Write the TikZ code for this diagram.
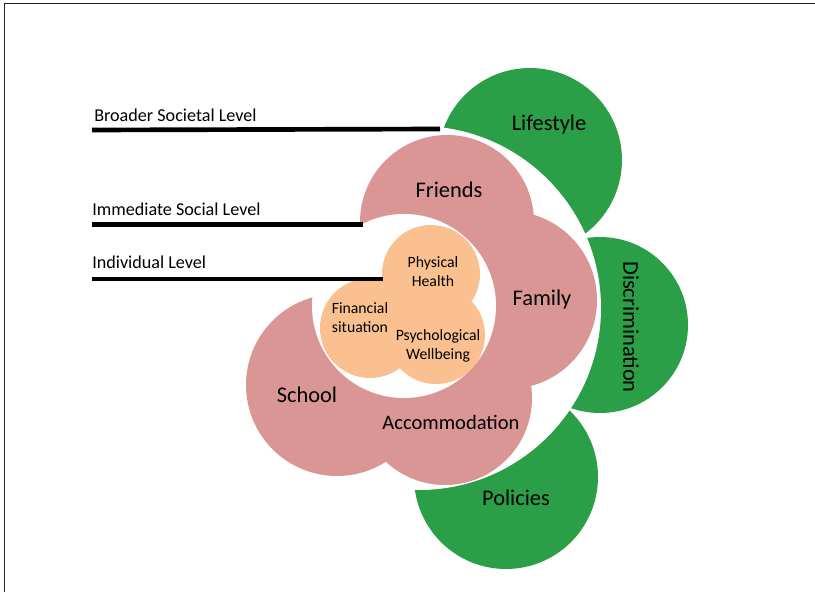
\documentclass[tikz,border=0pt]{standalone}
\usepackage{fontspec}
\setmainfont{Carlito}
\usetikzlibrary{positioning}
\definecolor{leafgreen}{RGB}{43,159,72}
\definecolor{petalpink}{RGB}{217,150,148}
\definecolor{coreorange}{RGB}{250,192,144}
\tikzset{
	bigtext/.style={font=\fontsize{16.8}{20}\selectfont,inner sep=0pt},
	coretext/.style={font=\fontsize{11.8}{14.2}\selectfont,align=center,inner sep=0pt},
	leveltext/.style={font=\fontsize{13.6}{16}\selectfont,inner sep=0pt,anchor=base west},
	levelline/.style={line width=3.5pt,black}
}

\begin{document}
\begin{tikzpicture}[x=0.75pt,y=-0.75pt]
		\useasboundingbox (0,0) rectangle (815,592);
		\draw[line width=1.1pt,black!85] (4.5,592) -- (4.5,3.5) -- (815,3.5);

		% broader societal level
		\fill[leafgreen] (530,160) circle [radius=92];
		\fill[leafgreen] (600,325) circle [radius=88];
		\fill[leafgreen] (506,477) circle [radius=92];
		\fill[white] (419,308) circle [radius=182];

		% immediate social level
		\fill[petalpink] (447,222) circle [radius=87];
		\fill[petalpink] (508,300) circle [radius=89];
		\fill[petalpink] (337,385) circle [radius=91];
		\fill[petalpink] (445,398) circle [radius=87];
		\fill[white] (404,306) circle [radius=92];

		% individual level
		\fill[coreorange] (431,274) circle [radius=49];
		\fill[coreorange] (370,328) circle [radius=50];
		\fill[coreorange] (436,335) circle [radius=49];

		\node[bigtext] (lifestyle) at (549,125) {Lifestyle};
		\node[bigtext,rotate=-90] (discrim) at (631,327) {Discrimination};
		\node[bigtext] (policies) at (516,498) {Policies};
		\node[bigtext] (friends) at (449,190) {Friends};
		\node[bigtext] (family) at (542,300) {Family};
		\node[bigtext] (school) at (307,395) {School};
		\node[bigtext,font=\fontsize{15.4}{18}\selectfont] (accom) at (451,422) {Accommodation};
		\node[coretext] (physical) at (433,272) {Physical\\Health};
		\node[coretext] (financial) at (360,318) {Financial\\situation};
		\node[coretext] (psycho) at (438,346) {Psychological\\Wellbeing};

		% level markers
		\node[leveltext] (broad) at (94,121.7) {Broader Societal Level};
		\node[leveltext] (immediate) at (92,215) {Immediate Social Level};
		\node[leveltext] (indiv) at (92,268) {Individual Level};
		\coordinate (broadL) at (92,130);
		\coordinate (broadR) at (440,129);
		\coordinate (immediateL) at (92,224.5);
		\coordinate (immediateR) at (363,224.5);
		\coordinate (indivL) at (92,279);
		\coordinate (indivR) at (383,279);
		\draw[levelline] (broadL) -- (broadR);
		\draw[levelline] (immediateL) -- (immediateR);
		\draw[levelline] (indivL) -- (indivR);
	\end{tikzpicture}
\end{document}
